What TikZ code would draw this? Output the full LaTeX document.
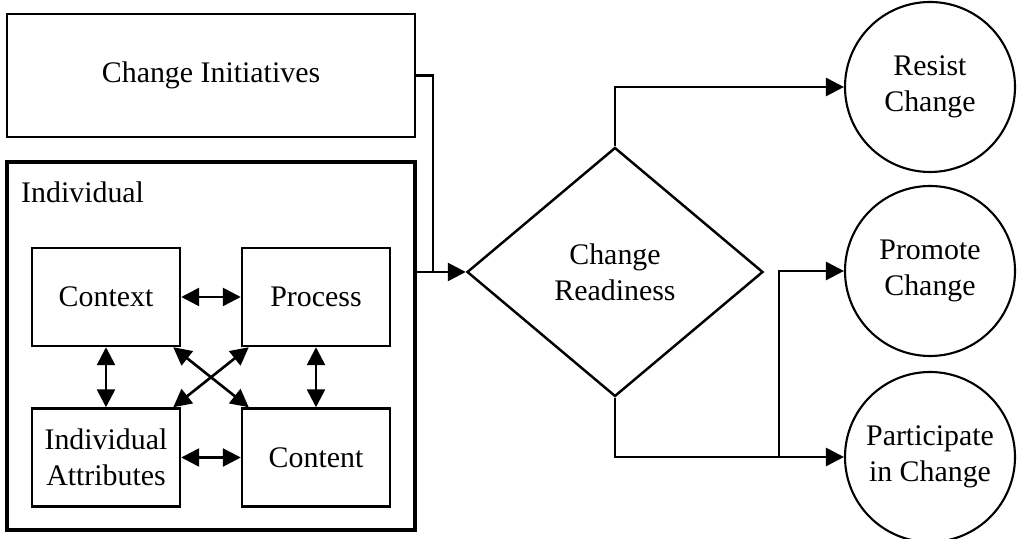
\documentclass[tikz,border=0pt]{standalone}
\usepackage{fontspec}
\setmainfont{Liberation Serif}
\usetikzlibrary{arrows.meta, shapes.geometric, positioning}

\begin{document}
\begin{tikzpicture}[
        font=\fontsize{17}{20.5}\selectfont,
        box/.style={rectangle, draw, line width=1.4pt, minimum width=2.96cm, minimum height=1.96cm, align=center, inner sep=0pt},
        outcome/.style={circle, draw, line width=1.2pt, minimum size=3.4cm, align=center, inner sep=0pt},
        edge/.style={-{Triangle[length=0.36cm, width=0.36cm]}, line width=1.5pt},
        twoway/.style={{Triangle[length=0.36cm, width=0.36cm]}-{Triangle[length=0.36cm, width=0.36cm]}, line width=1.5pt}
    ]
    \useasboundingbox (0,0) rectangle (20.44,10.78);
    \node[rectangle, draw, line width=1.4pt, minimum width=8.16cm, minimum height=2.46cm] (Init) at (4.22,9.27) {Change Initiatives};
    \node[rectangle, draw, line width=2.8pt, minimum width=8.16cm, minimum height=7.36cm] (Indiv) at (4.22,3.86) {};
    \node[anchor=west] (IndivLbl) at (0.3,6.94) {Individual};

    \node[box] (Ctx) at (2.12,4.84) {Context};
    \node[box] (Proc) at (6.32,4.84) {Process};
    \node[box] (Attr) at (2.12,1.63) {Individual\\Attributes};
    \node[box] (Cont) at (6.32,1.63) {Content};

    \node[diamond, draw, line width=1.4pt, minimum width=5.92cm, minimum height=4.98cm, inner sep=0pt, align=center] (Ready) at (12.3,5.34) {Change\\Readiness};

    \node[outcome] (Resist) at (18.6,9.04) {Resist\\Change};
    \node[outcome] (Prom) at (18.6,5.36) {Promote\\Change};
    \node[outcome] (Part) at (18.6,1.64) {Participate\\in Change};

    \draw[twoway] (Ctx) -- (Proc);
    \draw[twoway] (Attr) -- (Cont);
    \draw[twoway] (Ctx) -- (Attr);
    \draw[twoway] (Proc) -- (Cont);
    \draw[twoway] ([xshift=-0.16cm]Ctx.south east) -- ([xshift=0.16cm]Cont.north west);
    \draw[twoway] ([xshift=0.16cm]Proc.south west) -- ([xshift=-0.16cm]Attr.north east);

    \coordinate (Join) at (8.66,5.34);
    \draw[line width=1.5pt] (Init.east) -| (Join);
    \draw[edge] (Indiv.east |- Ready.west) -- (Ready.west);

    \draw[edge] (Ready.north) |- (Resist.west);
    \draw[edge] (Ready.south) |- (Part.west);
    \coordinate (Split) at (15.58,1.64);
    \draw[edge] (Split) |- (Prom.west);
\end{tikzpicture}
\end{document}
